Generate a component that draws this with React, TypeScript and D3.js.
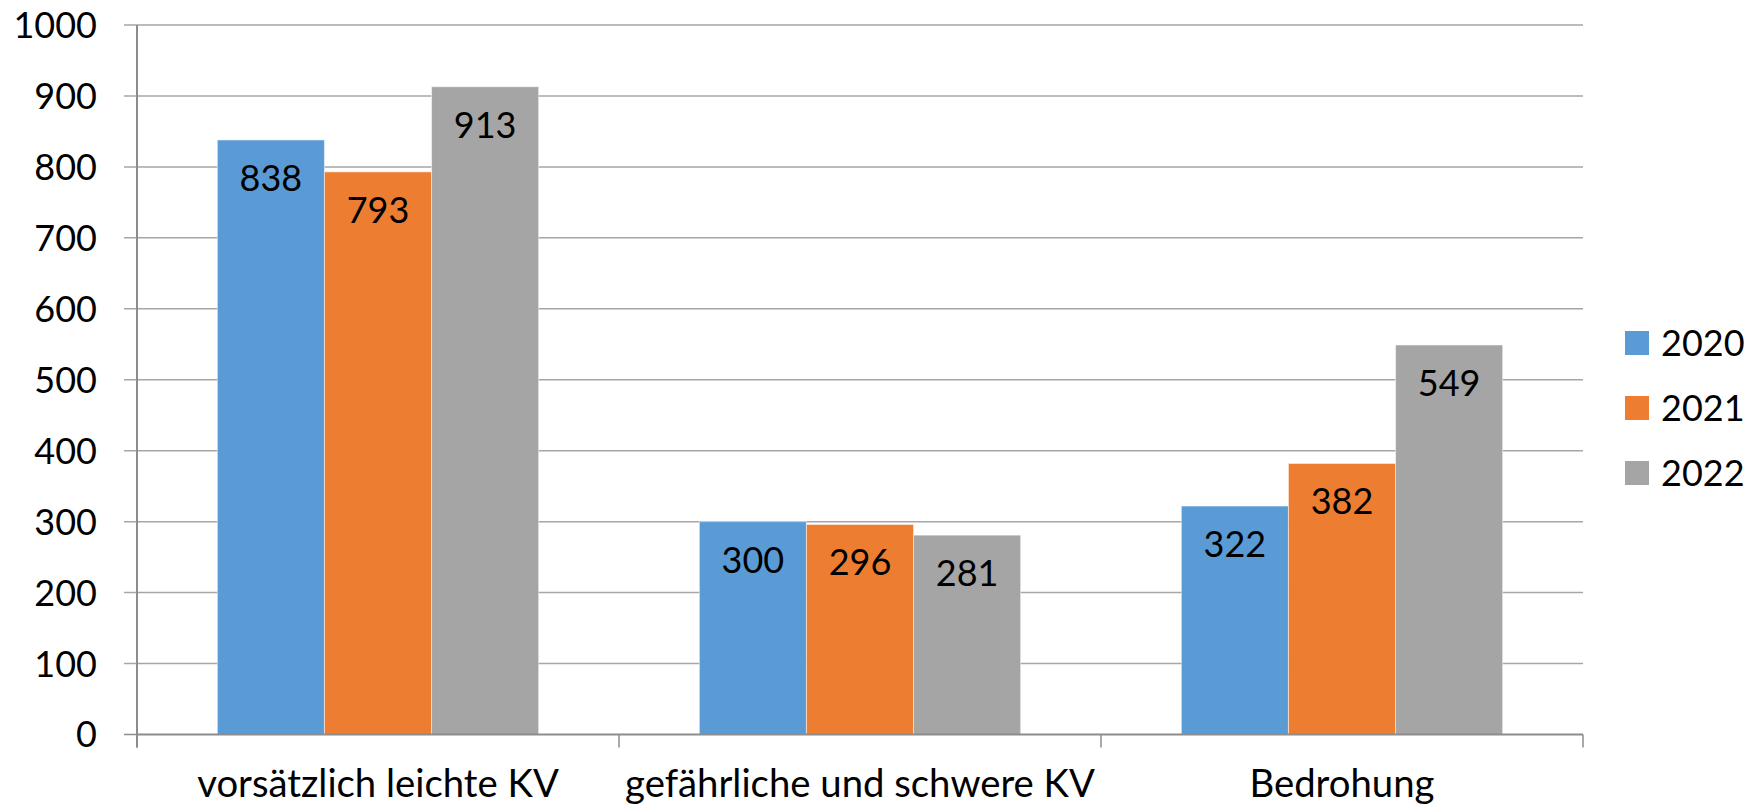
import React from "react";
import * as d3 from "d3";

const categories = ["vorsätzlich leichte KV", "gefährliche und schwere KV", "Bedrohung"];
const seriesNames = ["2020", "2021", "2022"];
const values2020 = [838, 300, 322];
const values2021 = [793, 296, 382];
const values2022 = [913, 281, 549];
const yTicks = [0, 100, 200, 300, 400, 500, 600, 700, 800, 900, 1000];
const colors = ["#5B9BD5", "#ED7D31", "#A5A5A5"];

const W = 1753;
const H = 811;
const left = 137;
const right = 1583;
const top = 25;
const bottom = 734.5;
const FONT = "Lato, 'Open Sans', sans-serif";
const FS = 36;

export default function App() {
  const series = [values2020, values2021, values2022];
  const x0 = d3.scaleBand<string>().domain(categories).range([left, right]).paddingInner(0).paddingOuter(0);
  const bw = x0.bandwidth();
  const groupW = bw / (1 + 1.5 / 3); // gap width 150%
  const x1 = d3.scaleBand<string>().domain(seriesNames).range([0, groupW]).padding(0);
  const y = d3.scaleLinear().domain([0, 1000]).range([bottom, top]);
  const gridColor = "#A6A6A6";
  const axisColor = "#8C8C8C";

  return (
    <svg width={W} height={H} style={{ position: "absolute", left: 0, top: 0, background: "#fff" }}>
      {yTicks.map((t) => (
        <g key={t}>
          <line x1={left - 13} x2={t === 0 ? left : right} y1={y(t)} y2={y(t)} stroke={t === 0 ? axisColor : gridColor} strokeWidth={1.5} />
          <text x={97} y={y(t)} dy="0.36em" textAnchor="end" fontFamily={FONT} fontSize={FS} fill="#000">
            {t}
          </text>
        </g>
      ))}
      {categories.map((c, ci) => {
        const gx = (x0(c) as number) + (bw - groupW) / 2;
        return (
          <g key={c}>
            {series.map((s, si) => {
              const v = s[ci];
              const bx = gx + (x1(seriesNames[si]) as number);
              return (
                <g key={si}>
                  <rect x={bx} y={y(v)} width={x1.bandwidth()} height={bottom - y(v)} fill={colors[si]} stroke="#ffffff" strokeOpacity={0.5} strokeWidth={1} />
                  <text x={bx + x1.bandwidth() / 2} y={y(v) + 51} textAnchor="middle" fontFamily={FONT} fontSize={FS} fill="#000">
                    {v}
                  </text>
                </g>
              );
            })}
            <text x={(x0(c) as number) + bw / 2} y={797} textAnchor="middle" fontFamily={FONT} fontSize={38.3} fill="#000">
              {c}
            </text>
          </g>
        );
      })}
      <line x1={left} x2={right} y1={bottom} y2={bottom} stroke={axisColor} strokeWidth={2} />
      <line x1={left} x2={left} y1={top} y2={bottom + 13} stroke={axisColor} strokeWidth={2} />
      {[...categories.map((c) => x0(c) as number), right].map((tx, i) => (
        <line key={i} x1={tx} x2={tx} y1={bottom} y2={bottom + 13} stroke={axisColor} strokeWidth={1.5} />
      ))}
      {seriesNames.map((n, i) => (
        <g key={n}>
          <rect x={1625} y={331 + i * 65} width={24} height={24} fill={colors[i]} />
          <text x={1661} y={343 + i * 65} dy="0.36em" fontFamily={FONT} fontSize={FS} fill="#000">
            {n}
          </text>
        </g>
      ))}
    </svg>
  );
}
